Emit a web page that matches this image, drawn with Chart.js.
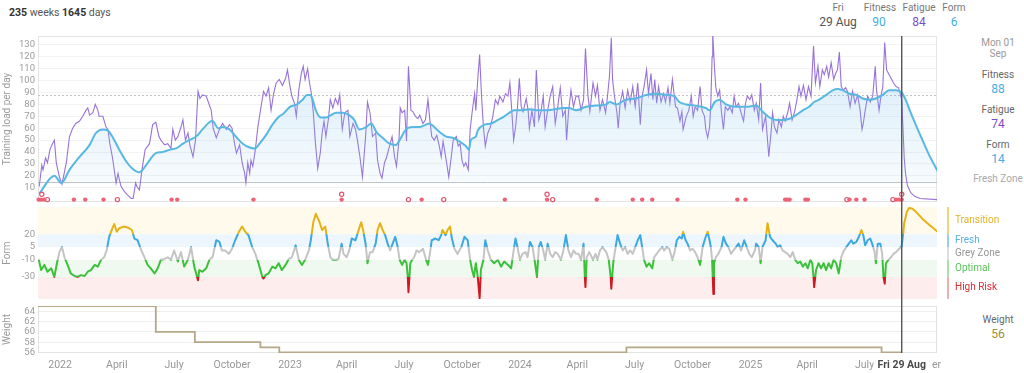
<!DOCTYPE html>
<html>
<head>
<meta charset="utf-8">
<script src="https://cdn.jsdelivr.net/npm/chart.js@4/dist/chart.umd.min.js"></script>
<style>
  body { margin: 0; width: 1024px; height: 373px; background: #fff; font-family: Roboto, sans-serif; position: relative; overflow: hidden; }
  .box { position: absolute; left: 0; width: 1024px; }
  .tx { position: absolute; transform: translate(-50%, -50%); white-space: nowrap; line-height: 1; font-size: 10px; color: #777; }
  .v { font-size: 12px; }
  .blue { color: rgb(72, 174, 224); }
  .purple { color: rgb(126, 78, 200); }
</style>
</head>
<body>
<div class="tx" style="left:9px;top:13px;transform:translateY(-50%);font-size:10.5px;color:#555"><b style="color:#333">235</b> weeks <b style="color:#333">1645</b> days</div>

<div class="tx" style="left:838px;top:8px">Fri</div>
<div class="tx v" style="left:838px;top:22px;color:#555">29 Aug</div>
<div class="tx" style="left:880px;top:8px">Fitness</div>
<div class="tx v blue" style="left:879px;top:22px">90</div>
<div class="tx" style="left:919px;top:8px">Fatigue</div>
<div class="tx v purple" style="left:919px;top:22px">84</div>
<div class="tx" style="left:954px;top:8px">Form</div>
<div class="tx v blue" style="left:954px;top:22px">6</div>

<div class="tx" style="left:998px;top:43px;color:#9a9a9a">Mon 01</div>
<div class="tx" style="left:998px;top:54px;color:#9a9a9a">Sep</div>
<div class="tx" style="left:998px;top:75px;color:#666">Fitness</div>
<div class="tx v blue" style="left:998px;top:89px">88</div>
<div class="tx" style="left:998px;top:110px;color:#666">Fatigue</div>
<div class="tx v purple" style="left:998px;top:124px">74</div>
<div class="tx" style="left:998px;top:145px;color:#666">Form</div>
<div class="tx v blue" style="left:998px;top:159px">14</div>
<div class="tx" style="left:998px;top:179px;color:#a8a8a8">Fresh Zone</div>

<div class="tx" style="left:998px;top:320px;color:#666">Weight</div>
<div class="tx v" style="left:998px;top:334px;color:rgb(160,142,62)">56</div>

<div class="box" style="top:36px;height:171px"><canvas id="loadChart"></canvas></div>
<div class="box" style="top:207px;height:99px"><canvas id="formChart"></canvas></div>
<div class="box" style="top:306px;height:67px"><canvas id="weightChart"></canvas></div>

<script>
// x values are days since 1 Jan 2022
var TODAY = 1336; // Fri 29 Aug 2025

var monthDays = [0, 90, 181, 273, 365, 455, 546, 638, 730, 821, 912, 1004, 1096, 1186, 1277, 1369];
var monthLabels = ["2022", "April", "July", "October", "2023", "April", "July", "October",
  "2024", "April", "July", "October", "2025", "April", "July", "October"];

var loadTicks = [10, 20, 30, 40, 50, 60, 70, 80, 90, 100, 110, 120, 130];
var formTicks = [20, 5, -10, -30];
var weightTicks = [56, 58, 60, 62, 64];

var fitness = [
  [-33,5],[-9,20],[2,14],[15,25],[31,36],[47,46],[57,56],[68,59],[76,58],[84,52],[94,42],[105,32],
  [115,26],[126,23],[131,25],[142,33],[152,39],[163,40],[174,42],[184,43],[195,47],[205,50],[216,53],
  [226,59],[237,65],[242,66],[251,60],[258,61],[269,59],[279,53],[290,47],[300,44],[309,43],[318,48],
  [328,55],[337,63],[348,70],[354,72],[365,78],[376,80],[385,84],[392,88],[397,88],[401,84],[406,75],
  [414,69],[422,69],[430,71],[438,73],[449,73],[459,71],[467,67],[475,59],[486,61],[494,64],[502,57],
  [512,52],[523,47],[533,46],[539,50],[549,59],[560,61],[570,61],[581,63],[586,64],[594,61],[602,57],
  [613,53],[623,52],[634,49],[644,45],[649,42],[652,50],[660,53],[663,58],[674,63],[684,64],[695,67],
  [705,70],[716,74],[721,75],[732,75],[745,76],[758,75],[771,75],[785,76],[798,77],[808,77],[819,75],
  [835,78],[851,79],[867,80],[872,82],[883,80],[898,84],[914,85],[930,88],[946,89],[962,88],[975,87],
  [983,82],[994,80],[1009,79],[1025,77],[1031,75],[1039,82],[1047,84],[1057,80],[1073,78],[1089,78],
  [1105,79],[1115,74],[1126,69],[1137,67],[1147,67],[1158,68],[1168,71],[1179,75],[1189,78],[1197,82],
  [1205,84],[1216,88],[1227,92],[1234,93],[1242,92],[1253,89],[1264,88],[1274,85],[1285,84],[1295,85],
  [1306,88],[1316,92],[1327,92],[1336,90],[1343,83],[1348,76],[1359,62],[1369,50],[1380,37],[1393,24]
];

var fatigue = [
  [-33,11],[-29,29],[-27,25],[-23,35],[-20,31],[-16,42],[-13,46],[-9,50],[-6,31],[-1,19],[3,13],[10,31],
  [15,53],[20,60],[25,64],[31,66],[36,70],[41,75],[44,77],[47,71],[52,73],[56,80],[60,75],[62,70],[68,70],
  [73,61],[76,59],[79,47],[83,36],[86,25],[89,14],[92,22],[94,17],[97,11],[102,7],[107,4],[113,1],[116,1],
  [120,14],[122,11],[126,8],[130,25],[135,42],[142,47],[147,63],[152,65],[157,53],[160,50],[166,46],
  [171,47],[176,43],[179,59],[183,50],[187,53],[192,61],[195,67],[199,50],[203,56],[206,46],[211,36],
  [215,50],[219,91],[222,85],[226,88],[232,87],[236,81],[240,75],[243,60],[248,52],
  [253,59],[258,64],[264,59],[269,63],[273,60],[277,47],[280,39],[285,46],[289,31],[293,22],[295,14],
  [298,31],[301,22],[303,33],[306,28],[310,42],[314,61],[319,78],[323,91],[327,87],[331,94],[335,75],
  [339,89],[343,98],[348,101],[353,96],[358,102],[361,109],[365,95],[368,87],[372,81],[375,70],[379,92],
  [383,106],[386,112],[389,101],[393,110],[396,98],[399,89],[402,73],[405,50],[409,26],[413,39],[416,56],
  [419,66],[422,53],[426,68],[429,84],[433,77],[437,85],[441,80],[444,88],[448,59],[452,73],[457,75],
  [460,53],[465,64],[469,59],[472,50],[476,36],[480,19],[485,53],[488,82],[492,73],[496,53],[501,56],
  [504,33],[508,22],[511,18],[515,31],[518,35],[523,45],[527,53],[531,36],[534,28],
  [538,50],[540,77],[543,73],[547,75],[550,49],[553,112],[557,75],[560,74],[564,70],[568,68],[571,71],
  [576,64],[580,67],[584,84],[587,67],[590,53],[594,50],[598,54],[602,45],[605,36],[608,49],[613,33],
  [617,19],[621,36],[624,50],[629,53],[632,45],[635,47],[638,33],[641,28],[644,31],[648,25],[651,59],
  [654,73],[658,89],[660,75],[663,101],[666,122],[669,87],[672,61],[675,45],[679,56],[683,61],[687,70],
  [691,84],[695,80],[698,87],[703,82],[707,89],[711,87],[714,98],[717,75],[720,50],[723,61],[726,77],
  [729,102],[732,78],[735,74],[740,85],[743,75],[745,60],[749,75],[753,61],[756,109],[760,67],[763,73],
  [767,87],[770,61],[774,75],[778,87],[782,95],[786,64],[790,78],[794,94],[798,70],[802,75],[804,50],
  [807,73],[811,92],[815,78],[819,87],
  [823,87],[827,75],[831,84],[834,127],[838,87],[841,74],[846,98],[850,87],[853,96],[857,75],[861,84],
  [866,73],[869,87],[872,103],[875,136],[877,101],[880,87],[884,73],[886,60],[889,81],[893,91],[897,77],
  [901,92],[905,82],[909,95],[913,78],[917,98],[921,63],[924,87],[927,95],[931,109],[934,89],[938,106],
  [941,84],[944,101],[947,81],[950,95],[954,82],[958,89],[961,82],[965,94],[968,81],[972,101],[977,78],
  [980,77],[984,66],[987,74],[989,59],[994,70],[998,75],[1002,87],[1005,70],[1008,78],[1012,75],[1016,95],
  [1019,75],[1023,70],[1025,59],[1028,52],[1031,61],[1033,81],[1035,120],[1036,140],[1039,109],[1041,94],
  [1044,87],[1047,92],[1050,73],[1053,59],[1056,78],[1060,75],[1063,78],[1067,73],[1070,87],[1073,78],
  [1077,81],[1081,73],[1085,66],[1088,81],[1091,87],[1095,84],[1098,88],[1102,75],[1105,81],
  [1109,67],[1112,98],[1115,59],[1120,70],[1123,50],[1125,36],[1129,59],[1131,73],[1134,61],[1138,56],
  [1141,67],[1145,61],[1148,70],[1151,66],[1155,73],[1158,81],[1162,67],[1166,74],[1169,82],[1173,95],
  [1176,87],[1180,96],[1184,84],[1188,95],[1192,87],[1196,129],[1199,98],[1203,112],[1206,95],[1210,109],
  [1213,105],[1217,112],[1220,103],[1224,115],[1228,101],[1231,106],[1234,109],[1237,124],[1240,95],
  [1243,92],[1247,94],[1250,91],[1254,78],[1258,91],[1262,81],[1266,88],[1270,75],[1273,59],[1275,64],
  [1278,75],[1282,87],[1286,82],[1290,87],[1294,112],[1296,92],[1300,75],[1303,87],[1306,95],[1309,132],
  [1312,109],[1315,106],[1319,102],[1323,98],[1327,95],[1331,94],[1336,84],
  [1338,60],[1340,35],[1342,22],[1345,12],[1350,6],[1356,3],[1365,1],[1393,0]
];

var form = [
  [-34,-9],[-30,-22],[-25,-16],[-20,-24],[-14,-20],[-9,-30],[-5,-14],[-1,-1],[3,5],[7,-7],[12,-16],
  [17,-26],[23,-29],[28,-30],[33,-28],[39,-29],[44,-24],[49,-22],[55,-16],[60,-18],[65,-10],[70,-7],
  [74,1],[78,17],[83,27],[86,32],[90,23],[94,27],[101,29],[107,28],[114,25],[118,15],[123,13],[129,1],
  [134,-7],[139,-16],[144,-20],[150,-26],[155,-20],[160,-10],[166,-9],[171,-7],[176,-10],[181,1],
  [187,-12],[192,-1],[197,-18],[203,-10],[208,5],[213,-18],[219,-34],[221,-22],[226,-24],[232,-20],
  [237,-10],[242,-7],[248,13],
  [253,11],[257,1],[262,1],[268,-3],[273,3],[278,13],[284,23],[289,29],[294,23],[299,19],[305,5],[310,-3],
  [315,-14],[321,-30],[323,-32],[326,-28],[331,-26],[337,-18],[342,-20],[347,-14],[352,-22],[358,-16],
  [363,-9],[368,-7],[374,7],[379,-10],[384,-16],[389,-10],[395,1],[398,13],[402,34],[406,44],[411,36],
  [416,25],[421,29],[425,9],[429,-7],[433,-10],[438,-10],[442,-9],[447,9],[450,-3],[455,-7],[459,1],
  [463,15],[469,13],[474,25],[478,34],[481,25],[485,9],[488,-14],[492,-1],[496,-1],[501,9],[504,25],
  [508,33],[512,25],[516,19],[520,9],[524,1],[528,9],[532,17],
  [536,5],[539,-10],[543,-16],[547,-10],[550,-14],[552,-30],[553,-48],[556,-14],[559,-10],[562,-7],
  [566,1],[570,-1],[576,3],[581,-10],[584,-16],[587,-3],[590,13],[596,15],[601,13],[605,19],[607,25],
  [612,19],[615,25],[619,29],[622,15],[626,3],[631,-3],[637,5],[642,17],[647,13],[651,-10],[654,-22],
  [657,-30],[660,-14],[663,-30],[666,-55],[668,-22],[672,-10],[675,13],[679,1],[684,-10],[689,-14],
  [695,-10],[700,-18],[705,-12],[711,-16],[716,-20],[720,1],[723,15],[726,5],[730,-10],[734,-3],
  [739,-1],[742,-7],[746,11],[750,5],[754,-14],[757,-30],[760,5],[763,11],[767,1],[770,-10],[774,9],
  [778,-3],[782,-7],[786,-1],[790,-3],[795,-10],[799,1],[803,19],[807,1],[811,-7],[815,1],[819,-3],
  [823,-3],[827,-10],[831,9],[833,-30],[834,-42],[836,-7],[840,-1],[846,-10],[850,-3],[853,-10],[857,1],
  [861,5],[867,-1],[871,-10],[874,-30],[875,-44],[878,-14],[881,1],[885,19],[889,9],[893,1],[897,5],
  [901,-3],[905,1],[909,-3],[913,5],[917,13],[921,19],[924,5],[927,-10],[931,-18],[935,-14],[940,-20],
  [943,-7],[947,-3],[951,1],[956,5],[959,1],[963,5],[967,3],[972,-10],[976,1],[979,13],[983,17],[987,15],
  [989,23],[993,13],[996,9],[1000,1],[1004,3],[1008,-1],[1012,-7],[1016,-16],[1020,5],[1024,15],
  [1028,23],[1031,13],[1033,5],[1035,-10],[1036,-30],[1037,-50],[1038,-14],[1041,-7],[1045,-3],[1050,5],
  [1053,17],[1057,9],[1061,5],[1065,-3],[1069,1],[1073,5],[1077,9],[1081,1],[1086,13],[1090,5],[1094,-3],
  [1098,-7],[1103,1],
  [1105,9],[1109,5],[1112,-14],[1115,5],[1120,13],[1123,33],[1127,17],[1131,13],[1136,9],[1139,5],
  [1143,7],[1147,1],[1151,-1],[1155,-3],[1159,-7],[1163,-1],[1167,-10],[1171,-14],[1175,-12],[1179,-18],
  [1183,-14],[1187,-20],[1191,-10],[1194,-14],[1196,-30],[1197,-42],[1200,-22],[1204,-14],[1208,-20],
  [1212,-14],[1216,-22],[1220,-14],[1224,-20],[1228,-10],[1232,-14],[1236,-26],[1240,-7],[1243,-1],
  [1248,5],[1252,9],[1256,13],[1259,9],[1264,11],[1268,17],[1272,25],[1275,19],[1278,7],[1282,13],
  [1286,15],[1289,9],[1293,-1],[1295,-14],[1298,9],[1302,9],[1305,-3],[1307,-30],[1309,-38],[1311,-14],
  [1315,-10],[1319,-7],[1323,-3],[1327,-1],[1332,3],[1336,6],
  [1338,19],[1340,33],[1344,46],[1348,51],[1353,50],[1359,46],[1369,38],[1380,31],[1393,23]
];

var weight = [[-35,65],[152,60],[214,58],[318,57],[348,56],[899,57],[1304,56],[1336,56]];

// activity markers under the load chart
var eventDays = [-34,-30,-25,22,40,69,177,186,307,447,574,706,773,852,909,924,940,980,1075,1088,
  1151,1154,1158,1183,1187,1253,1264,1277,1327,1332,1336];
var eventDaysOpen = [-20,91,553,609,782,1249,1322];
var eventDaysOpenTop = [-29,447,773,1336];

var formZones = [
  { label: "Transition", from: 20, to: 200, line: "rgb(228,178,22)", band: "rgb(255,250,236)", bar: "rgb(240,212,120)", text: "rgb(226,180,40)" },
  { label: "Fresh", from: 5, to: 20, line: "rgb(62,168,222)", band: "rgb(237,246,252)", bar: "rgb(150,205,235)", text: "rgb(88,175,225)" },
  { label: "Grey Zone", from: -10, to: 5, line: "rgb(196,196,196)", band: "rgb(255,255,255)", bar: "rgb(222,222,222)", text: "rgb(150,150,150)" },
  { label: "Optimal", from: -30, to: -10, line: "rgb(60,192,60)", band: "rgb(239,249,239)", bar: "rgb(170,225,170)", text: "rgb(90,195,90)" },
  { label: "High Risk", from: -200, to: -30, line: "rgb(205,25,35)", band: "rgb(253,237,237)", bar: "rgb(240,172,176)", text: "rgb(215,45,55)" }
];

Chart.defaults.font.family = "Roboto, sans-serif";

function pts(arr) {
  return arr.map(function (p) { return { x: p[0], y: p[1] }; });
}
function dots(days, y) {
  return days.map(function (d) { return { x: d, y: y }; });
}

function xAxis(show) {
  return {
    type: "linear",
    min: -35,
    max: 1392,
    display: show,
    grid: { display: false, drawTicks: false },
    border: { display: false },
    afterBuildTicks: function (s) { s.ticks = monthDays.map(function (v) { return { value: v }; }); },
    afterFit: function (s) {
      s.height = show ? 20 : 0;
      s.paddingLeft = 0;
      s.paddingRight = 0;
    },
    ticks: {
      autoSkip: false, maxRotation: 0, minRotation: 0, padding: 6,
      color: "#979797", font: { size: 10.5 },
      callback: function (v, i) { return monthLabels[i]; }
    }
  };
}

function yAxis(min, max, tickValues, title, gridColor) {
  return {
    min: min,
    max: max,
    afterBuildTicks: function (s) { s.ticks = tickValues.map(function (v) { return { value: v }; }); },
    afterFit: function (s) { s.width = 38; s.paddingTop = 0; s.paddingBottom = 0; },
    grid: { display: !!gridColor, color: gridColor, drawTicks: false },
    border: { display: false },
    ticks: { autoSkip: false, padding: 3, color: "#9b9b9b", font: { size: 9.5 } },
    title: { display: true, text: title, color: "#9b9b9b", font: { size: 10 }, padding: { top: 1, bottom: 0 } }
  };
}

var todayLine = {
  id: "todayLine",
  afterDatasetsDraw: function (chart, args, opts) {
    var a = chart.chartArea;
    var px = chart.scales.x.getPixelForValue(TODAY);
    var c = chart.ctx;
    c.save();
    c.strokeStyle = "#555";
    c.lineWidth = 1.4;
    c.beginPath();
    c.moveTo(px, a.top);
    c.lineTo(px, opts.toEdge ? chart.height : a.bottom);
    c.stroke();
    c.restore();
  }
};

var loadExtras = {
  id: "loadExtras",
  beforeDatasetsDraw: function (chart) {
    var a = chart.chartArea, y = chart.scales.y, c = chart.ctx;
    c.save();
    c.strokeStyle = "#e4e4e4";
    c.lineWidth = 1;
    c.strokeRect(a.left + 0.5, a.top + 0.5, a.width - 1, a.height - 1);
    var yb = Math.round(y.getPixelForValue(14.5)) + 0.5;
    c.strokeStyle = "#bfc4c9";
    c.beginPath(); c.moveTo(a.left, yb); c.lineTo(a.right, yb); c.stroke();
    var yd = Math.round(y.getPixelForValue(88)) + 0.5;
    c.strokeStyle = "#c4c4c4";
    c.setLineDash([2, 2]);
    c.beginPath(); c.moveTo(a.left, yd); c.lineTo(a.right, yd); c.stroke();
    c.restore();
  }
};

function zoneGradient(chart) {
  var a = chart.chartArea;
  if (!a) return formZones[2].line;
  var y = chart.scales.y;
  var g = chart.ctx.createLinearGradient(0, a.top, 0, a.bottom);
  var h = a.bottom - a.top;
  formZones.forEach(function (z) {
    var t = Math.min(1, Math.max(0, (y.getPixelForValue(z.to) - a.top) / h));
    var b = Math.min(1, Math.max(0, (y.getPixelForValue(z.from) - a.top) / h));
    g.addColorStop(t, z.line);
    g.addColorStop(b, z.line);
  });
  return g;
}

var formExtras = {
  id: "formExtras",
  beforeDatasetsDraw: function (chart) {
    var a = chart.chartArea, y = chart.scales.y, c = chart.ctx;
    c.save();
    formZones.forEach(function (z) {
      var t = Math.max(a.top, y.getPixelForValue(z.to));
      var b = Math.min(a.bottom, y.getPixelForValue(z.from));
      c.fillStyle = z.band;
      c.fillRect(a.left, t, a.width, b - t);
    });
    c.restore();
  },
  afterDraw: function (chart) {
    var a = chart.chartArea, y = chart.scales.y, c = chart.ctx;
    c.save();
    c.font = "10px Roboto, sans-serif";
    c.textBaseline = "middle";
    c.textAlign = "left";
    formZones.forEach(function (z) {
      var t = Math.max(a.top, y.getPixelForValue(z.to));
      var b = Math.min(a.bottom, y.getPixelForValue(z.from));
      c.fillStyle = z.bar;
      c.fillRect(a.right + 10, t, 2, b - t);
      c.fillStyle = z.text;
      c.fillText(z.label, a.right + 18, (t + b) / 2);
    });
    c.restore();
  }
};

var weightExtras = {
  id: "weightExtras",
  beforeDatasetsDraw: function (chart) {
    var a = chart.chartArea, c = chart.ctx;
    c.save();
    c.strokeStyle = "#e2e2e2";
    c.strokeRect(a.left + 0.5, a.top + 0.5, a.width - 1, a.height - 1);
    c.restore();
  },
  afterDraw: function (chart) {
    var x = chart.scales.x, c = chart.ctx;
    var px = x.getPixelForValue(TODAY);
    c.save();
    c.font = "bold 10.5px Roboto, sans-serif";
    var w = c.measureText("Fri 29 Aug").width;
    c.fillStyle = "#fff";
    c.fillRect(px - w / 2 - 4, x.top + 1, w + 10, chart.height - x.top - 1);
    c.fillStyle = "#4a4a4a";
    c.textAlign = "center";
    c.textBaseline = "middle";
    c.fillText("Fri 29 Aug", px, x.top + 12.5);
    c.restore();
  }
};

new Chart(document.getElementById("loadChart"), {
  type: "line",
  data: {
    datasets: [
      {
        label: "Events",
        data: dots(eventDays, 0),
        showLine: false,
        pointRadius: 2.2,
        pointBackgroundColor: "rgb(238,98,118)",
        pointBorderWidth: 0,
        clip: false,
        order: 0
      },
      {
        label: "Events open",
        data: dots(eventDaysOpen, 0).concat(dots(eventDaysOpenTop, 4.5)),
        showLine: false,
        pointRadius: 2.1,
        pointBackgroundColor: "#fff",
        pointBorderColor: "rgb(224,84,112)",
        pointBorderWidth: 1.2,
        clip: false,
        order: 0
      },
      {
        label: "Fitness",
        data: pts(fitness),
        borderColor: "rgb(88,184,226)",
        borderWidth: 2,
        pointRadius: 0,
        cubicInterpolationMode: "monotone",
        fill: { value: 14.5 },
        backgroundColor: function (ctx) {
          var ch = ctx.chart, a = ch.chartArea;
          if (!a) return "rgba(120,190,235,0.15)";
          var y = ch.scales.y;
          var g = ch.ctx.createLinearGradient(0, y.getPixelForValue(95), 0, y.getPixelForValue(14.5));
          g.addColorStop(0, "rgba(120,190,235,0.24)");
          g.addColorStop(1, "rgba(120,190,235,0.06)");
          return g;
        },
        order: 1
      },
      {
        label: "Fatigue",
        data: pts(fatigue),
        borderColor: "rgb(152,114,216)",
        borderWidth: 1.1,
        pointRadius: 0,
        tension: 0,
        fill: false,
        order: 2
      }
    ]
  },
  options: {
    responsive: true,
    maintainAspectRatio: false,
    animation: false,
    events: [],
    layout: { autoPadding: false, padding: { left: 0, right: 87, top: 0, bottom: 5 } },
    plugins: { legend: { display: false }, tooltip: { enabled: false }, todayLine: { toEdge: true } },
    scales: {
      x: xAxis(false),
      y: yAxis(-2, 137.5, loadTicks, "Training load per day", "rgb(243,243,243)")
    }
  },
  plugins: [loadExtras, todayLine]
});

new Chart(document.getElementById("formChart"), {
  type: "line",
  data: {
    datasets: [
      {
        label: "Form",
        data: pts(form),
        borderColor: function (ctx) { return zoneGradient(ctx.chart); },
        borderWidth: 2,
        borderJoinStyle: "round",
        pointRadius: 0,
        tension: 0,
        fill: false
      }
    ]
  },
  options: {
    responsive: true,
    maintainAspectRatio: false,
    animation: false,
    events: [],
    layout: { autoPadding: false, padding: { left: 0, right: 87, top: 0, bottom: 7 } },
    plugins: { legend: { display: false }, tooltip: { enabled: false }, todayLine: { toEdge: true } },
    scales: {
      x: xAxis(false),
      y: yAxis(-56, 52, formTicks, "Form", null)
    }
  },
  plugins: [formExtras, todayLine]
});

new Chart(document.getElementById("weightChart"), {
  type: "line",
  data: {
    datasets: [
      {
        label: "Weight",
        data: pts(weight),
        stepped: true,
        borderColor: "rgb(180,168,134)",
        borderWidth: 1.8,
        pointRadius: 0,
        fill: false
      }
    ]
  },
  options: {
    responsive: true,
    maintainAspectRatio: false,
    animation: false,
    events: [],
    layout: { autoPadding: false, padding: { left: 0, right: 87, top: 0, bottom: 0 } },
    plugins: { legend: { display: false }, tooltip: { enabled: false }, todayLine: { toEdge: false } },
    scales: {
      x: xAxis(true),
      y: yAxis(55.9, 65, weightTicks, "Weight", "rgb(238,238,238)")
    }
  },
  plugins: [weightExtras, todayLine]
});
</script>
</body>
</html>
